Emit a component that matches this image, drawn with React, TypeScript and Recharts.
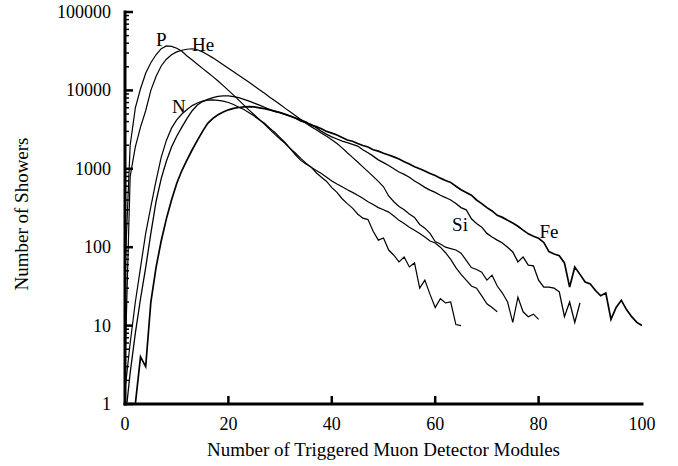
import React from 'react';
import { LineChart, Line, XAxis, YAxis, ReferenceDot } from 'recharts';

const FONT = "'Liberation Serif', 'DejaVu Serif', serif";

const modules = [
  0, 1, 2, 3, 4, 5, 6, 7, 8, 9, 10, 11, 12, 13, 14, 15, 16, 17, 18, 19, 20,
  21, 22, 23, 24, 25, 26, 27, 28, 29, 30, 31, 32, 33, 34, 35, 36, 37, 38, 39, 40,
  41, 42, 43, 44, 45, 46, 47, 48, 49, 50, 51, 52, 53, 54, 55, 56, 57, 58, 59, 60,
  61, 62, 63, 64, 65, 66, 67, 68, 69, 70, 71, 72, 73, 74, 75, 76, 77, 78, 79, 80,
  81, 82, 83, 84, 85, 86, 87, 88, 89, 90, 91, 92, 93, 94, 95, 96, 97, 98, 99, 100,
];

const protonCounts = [
  50, 2000, 6000, 10500, 16500, 22500, 28500, 34000, 37000, 36500, 34500,
  31500, 27500, 24400, 21600, 19100, 16900, 15000, 13200, 11500, 10000,
  8700, 7500, 6500, 5600, 4900, 4250, 3700, 3200, 2750, 2400,
  2100, 1800, 1580, 1360, 1180, 1050, 890, 780, 690, 575,
  500, 415, 360, 315, 265, 235, 225, 160, 123, 131,
  92, 79, 65, 75, 56, 63, 30, 38, 25, 17,
  22, 19.5, 20, 10.3, 10,
];

const heliumCounts = [
  3, 800, 1900, 3400, 5500, 10000, 15000, 20500, 25000, 28500, 31000,
  32500, 33500, 34000, 33000, 31000, 28500, 26000, 23500, 21200, 19200,
  17300, 15600, 14100, 12700, 11400, 10200, 9200, 8200, 7400, 6600,
  5900, 5300, 4750, 4250, 3800, 3450, 3150, 2850, 2600, 2350,
  2100, 1850, 1600, 1400, 1220, 1060, 920, 800, 690, 590,
  450, 380, 330, 300, 265, 240, 195, 175, 150, 118,
  110, 100, 96, 92, 84, 68, 55, 52, 48, 38,
  44, 32, 26, 20, 11, 23, 15, 13, 14, 12,
];

const nitrogenCounts = [
  1.5, 6, 20, 55, 150, 330, 700, 1400, 2300, 3300, 4200,
  5000, 5700, 6400, 6900, 7300, 7500, 7550, 7450, 7300, 7000,
  6600, 6100, 5700, 5200, 4700, 4200, 3800, 3300, 2900, 2500,
  2150, 1800, 1500, 1280, 1150, 1050, 950, 870, 780, 700,
  640, 590, 540, 500, 460, 420, 380, 350, 320, 300,
  280, 250, 220, 200, 180, 165, 150, 135, 120, 113,
  100, 85, 70, 55, 45, 38, 32, 30, 24, 19,
  17, 15,
];

const siliconCounts = [
  0.6, 2.5, 8, 22, 55, 150, 380, 750, 1250, 1900, 2600,
  3400, 4400, 5500, 6500, 7200, 7700, 8100, 8400, 8500, 8500,
  8350, 8100, 7700, 7300, 6900, 6500, 6100, 5700, 5350, 5200,
  4950, 4700, 4400, 4050, 3850, 3700, 3350, 3000, 2750, 2550,
  2400, 2250, 2150, 2050, 1950, 1750, 1600, 1450, 1300, 1200,
  1100, 1000, 910, 850, 780, 700, 640, 580, 535, 500,
  460, 430, 400, 360, 320, 300, 230, 200, 180, 150,
  135, 123, 113, 100, 87, 65, 75, 59, 58, 38,
  31, 31, 30, 27, 13, 20, 11, 19.5,
];

const ironCounts = [
  null, null, 1, 4, 3, 20, 55, 120, 230, 400, 650,
  950, 1300, 1750, 2300, 3000, 3800, 4400, 4900, 5300, 5650,
  5900, 6050, 6150, 6200, 6150, 6000, 5850, 5650, 5450, 5200,
  4950, 4700, 4450, 4200, 3950, 3600, 3450, 3250, 3000, 2850,
  2700, 2500, 2330, 2250, 2100, 1980, 1900, 1750, 1680, 1580,
  1500, 1420, 1330, 1230, 1150, 1060, 1000, 940, 870, 820,
  760, 710, 670, 600, 540, 500, 460, 400, 360, 320,
  290, 255, 240, 220, 203, 185, 165, 148, 138, 130,
  115, 88, 82, 78, 63, 31, 56, 45, 36, 34,
  28, 24, 26, 12, 17, 21, 16, 13, 11, 10,
];

const xTicks = [0, 20, 40, 60, 80, 100];
const xTopTicks = [20, 40, 60, 80];
const yMajorTicks = [1, 10, 100, 1000, 10000, 100000];
const yMinorTicks = [
  2, 3, 4, 5, 6, 7, 8, 9,
  20, 30, 40, 50, 60, 70, 80, 90,
  200, 300, 400, 500, 600, 700, 800, 900,
  2000, 3000, 4000, 5000, 6000, 7000, 8000, 9000,
  20000, 30000, 40000, 50000, 60000, 70000, 80000, 90000,
];

const curveLabels = [
  { text: 'P', m: 7.0, n: 44000 },
  { text: 'He', m: 15.1, n: 39000 },
  { text: 'N', m: 10.4, n: 6300 },
  { text: 'Si', m: 64.8, n: 195 },
  { text: 'Fe', m: 82.0, n: 160 },
];

const data = modules.map((m, i) => ({
  m,
  P: protonCounts[i] ?? null,
  He: heliumCounts[i] ?? null,
  N: nitrogenCounts[i] ?? null,
  Si: siliconCounts[i] ?? null,
  Fe: ironCounts[i] ?? null,
}));

const allYTicks = [...yMajorTicks, ...yMinorTicks].sort((a, b) => a - b);
const isMajor = (v: number) => yMajorTicks.includes(v);

const textStyle: React.CSSProperties = { fontFamily: FONT, fill: '#000' };

const LeftTick = (props: any) => {
  const { x, y, payload } = props;
  const v = payload.value;
  const major = isMajor(v);
  return (
    <g>
      <line x1={x} y1={y} x2={x + (major ? 8 : 4)} y2={y} stroke="#000" strokeWidth={major ? 2.5 : 1.5} />
      {major && (
        <text x={x - 14} y={y} textAnchor="end" dominantBaseline="central" fontFamily={FONT} style={{ ...textStyle, fontSize: 18 }}>
          {v}
        </text>
      )}
    </g>
  );
};

const RightTick = (props: any) => {
  const { x, y, payload } = props;
  const major = isMajor(payload.value);
  return <line x1={x} y1={y} x2={x - (major ? 8 : 4)} y2={y} stroke="#000" strokeWidth={major ? 2.5 : 1.5} />;
};

const BottomTick = (props: any) => {
  const { x, y, payload } = props;
  const v = payload.value;
  const inner = v !== 0 && v !== 100;
  return (
    <g>
      {inner && <line x1={x} y1={y} x2={x} y2={y - 8} stroke="#000" strokeWidth={2.5} />}
      <text x={x} y={y + 26} textAnchor="middle" fontFamily={FONT} style={{ ...textStyle, fontSize: 18 }}>
        {v}
      </text>
    </g>
  );
};

const TopTick = (props: any) => {
  const { x, y } = props;
  return <line x1={x} y1={y} x2={x} y2={y + 8} stroke="#000" strokeWidth={2.5} />;
};

const axisLineStyle = { stroke: '#000', strokeWidth: 3, strokeLinecap: 'square' as const };

const XTitle = (props: any) => {
  const vb = props.viewBox;
  return (
    <text x={vb.x + vb.width / 2} y={vb.y + 52} textAnchor="middle" fontFamily={FONT} style={{ ...textStyle, fontSize: 19 }}>
      Number of Triggered Muon Detector Modules
    </text>
  );
};

const YTitle = (props: any) => {
  const vb = props.viewBox;
  const cx = 21;
  const cy = vb.y + vb.height / 2 + 6;
  return (
    <text
      x={cx}
      y={cy}
      transform={`rotate(-90, ${cx}, ${cy})`}
      textAnchor="middle"
      dominantBaseline="central"
      fontFamily={FONT}
      style={{ ...textStyle, fontSize: 19 }}
    >
      Number of Showers
    </text>
  );
};

const CurveLabel = (props: any) => {
  const vb = props.viewBox;
  return (
    <text
      x={vb.x + vb.width / 2}
      y={vb.y + vb.height / 2}
      textAnchor="middle"
      dominantBaseline="central"
      fontFamily={FONT}
      style={{ ...textStyle, fontSize: 19 }}
    >
      {props.value}
    </text>
  );
};

const series = [
  { key: 'P', width: 1.2 },
  { key: 'He', width: 1.2 },
  { key: 'N', width: 1.2 },
  { key: 'Si', width: 1.3 },
  { key: 'Fe', width: 1.7 },
];

export default function App() {
  return (
    <div style={{ position: 'absolute', left: 0, top: 0, width: 678, height: 466, background: '#fff', fontFamily: FONT }}>
      <LineChart width={678} height={466} data={data} margin={{ top: 12, right: 36, bottom: 0, left: 0 }}>
        <XAxis
          dataKey="m"
          type="number"
          domain={[0, 100]}
          ticks={xTicks}
          interval={0}
          height={62}
          tickSize={0}
          tickMargin={0}
          tickLine={false}
          axisLine={axisLineStyle}
          tick={<BottomTick />}
          allowDataOverflow
          label={{ content: <XTitle /> }}
        />
        <XAxis
          xAxisId="top"
          dataKey="m"
          type="number"
          orientation="top"
          domain={[0, 100]}
          ticks={xTopTicks}
          interval={0}
          height={0}
          tickSize={0}
          tickMargin={0}
          tickLine={false}
          axisLine={axisLineStyle}
          tick={<TopTick />}
          allowDataOverflow
        />
        <YAxis
          type="number"
          scale="log"
          domain={[1, 100000]}
          ticks={allYTicks}
          interval={0}
          width={125}
          tickSize={0}
          tickMargin={0}
          tickLine={false}
          axisLine={axisLineStyle}
          tick={<LeftTick />}
          allowDataOverflow
          label={{ content: <YTitle /> }}
        />
        <YAxis
          yAxisId="right"
          orientation="right"
          type="number"
          scale="log"
          domain={[1, 100000]}
          ticks={allYTicks}
          interval={0}
          width={0}
          tickSize={0}
          tickMargin={0}
          tickLine={false}
          axisLine={axisLineStyle}
          tick={<RightTick />}
          allowDataOverflow
        />
        {series.map((s) => (
          <Line
            key={s.key}
            dataKey={s.key}
            type="linear"
            stroke="#000"
            strokeWidth={s.width}
            dot={false}
            activeDot={false}
            connectNulls={false}
            isAnimationActive={false}
          />
        ))}
        {curveLabels.map((l) => (
          <ReferenceDot
            key={l.text}
            x={l.m}
            y={l.n}
            r={0}
            fill="none"
            stroke="none"
            ifOverflow="visible"
            label={<CurveLabel value={l.text} />}
          />
        ))}
      </LineChart>
    </div>
  );
}
